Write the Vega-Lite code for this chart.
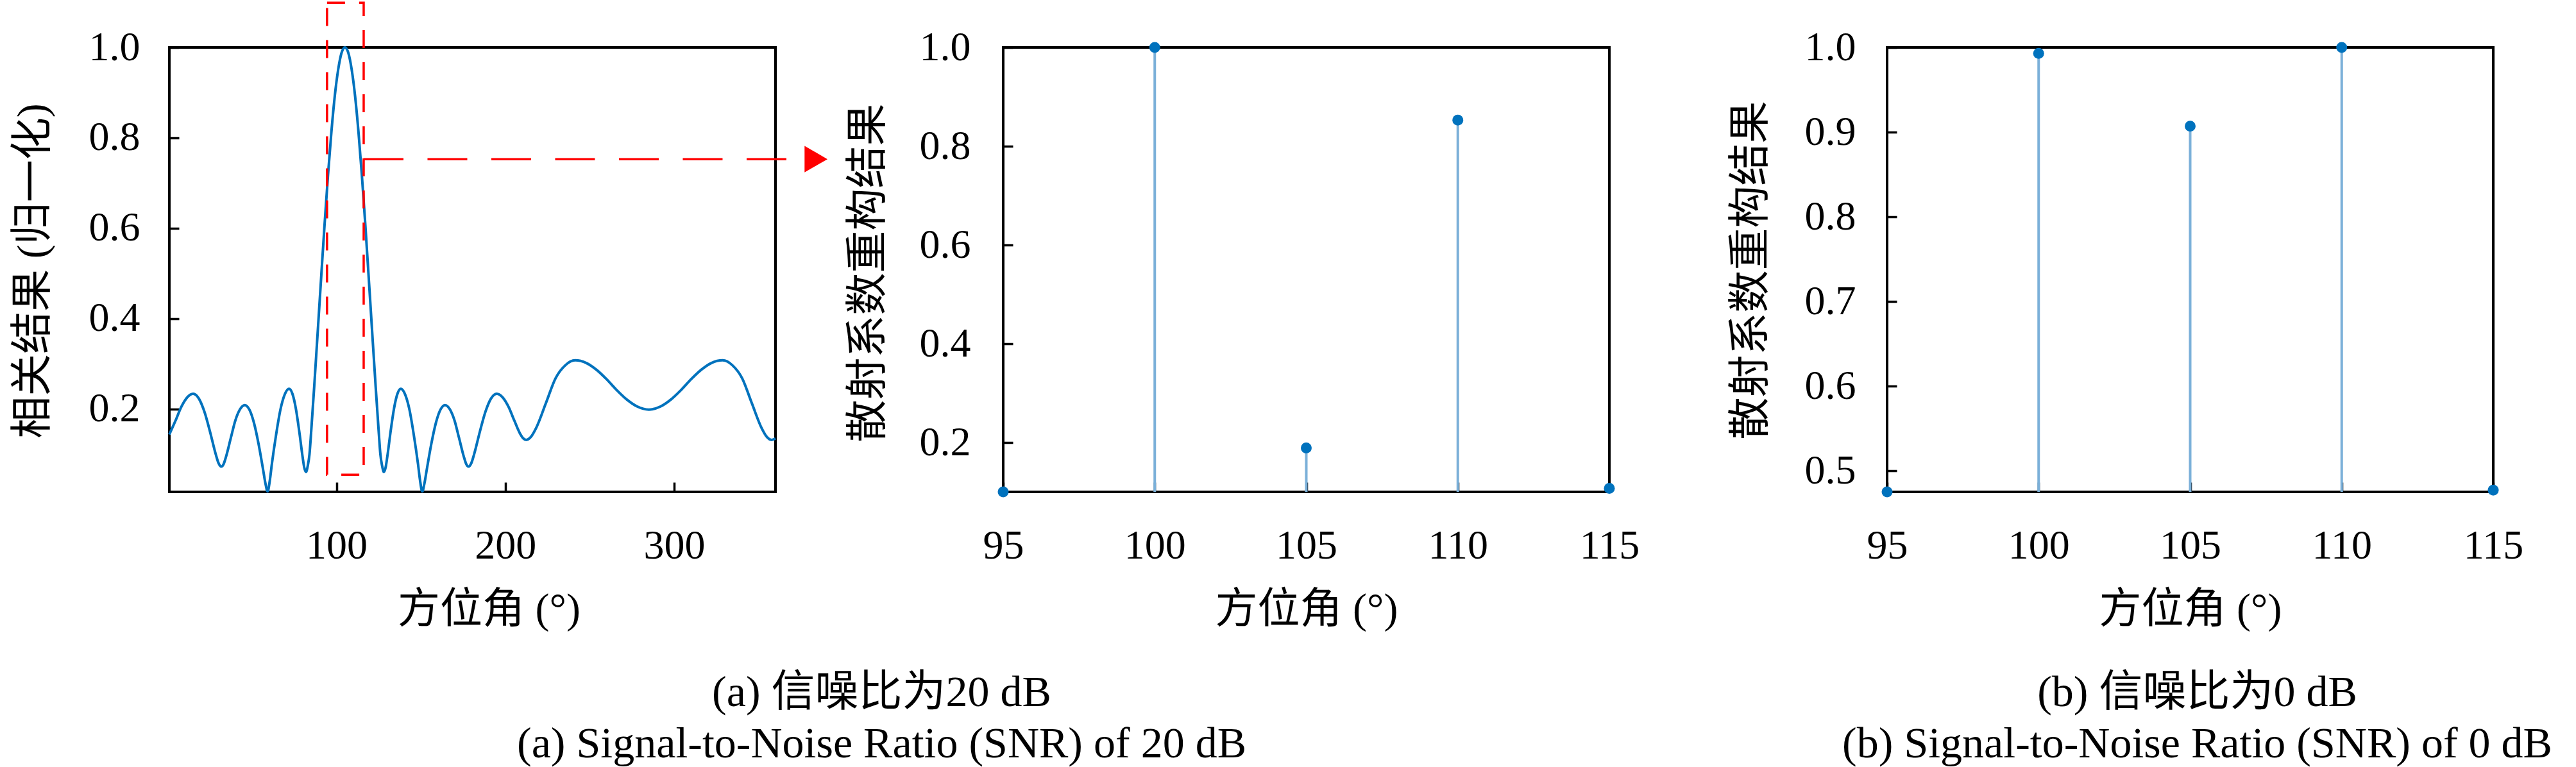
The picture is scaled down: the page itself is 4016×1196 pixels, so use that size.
{
  "$schema": "https://vega.github.io/schema/vega-lite/v6.json",
  "padding": {"left": 15, "top": 0, "right": 0, "bottom": 0},
  "background": "white",
  "spacing": 135,
  "hconcat": [
    {
      "bounds": "flush",
      "spacing": 355,
      "hconcat": [
        {
          "width": 945,
          "height": 693,
          "layer": [
            {
              "data": {
                "values": [
                  {"a": 1, "v": 0.144}, {"a": 4.6, "v": 0.174}, {"a": 8.1, "v": 0.205},
                  {"a": 11.6, "v": 0.226}, {"a": 15.1, "v": 0.234}, {"a": 18.4, "v": 0.224},
                  {"a": 21.8, "v": 0.194}, {"a": 25.1, "v": 0.150}, {"a": 28.5, "v": 0.100},
                  {"a": 30.1, "v": 0.081}, {"a": 31.8, "v": 0.073}, {"a": 33.2, "v": 0.079},
                  {"a": 34.6, "v": 0.095}, {"a": 37.4, "v": 0.136}, {"a": 40.1, "v": 0.175},
                  {"a": 42.9, "v": 0.200}, {"a": 45.7, "v": 0.209}, {"a": 48.4, "v": 0.199},
                  {"a": 51.1, "v": 0.170}, {"a": 53.8, "v": 0.124}, {"a": 56.5, "v": 0.067},
                  {"a": 57.85, "v": 0.037}, {"a": 59.2, "v": 0.018}, {"a": 60.5, "v": 0.042},
                  {"a": 61.7, "v": 0.078}, {"a": 64.3, "v": 0.145}, {"a": 66.8, "v": 0.199},
                  {"a": 69.4, "v": 0.233}, {"a": 71.9, "v": 0.245}, {"a": 73.9, "v": 0.234},
                  {"a": 75.9, "v": 0.202}, {"a": 77.9, "v": 0.152}, {"a": 79.9, "v": 0.095},
                  {"a": 80.9, "v": 0.071}, {"a": 81.9, "v": 0.061}, {"a": 83, "v": 0.075},
                  {"a": 84, "v": 0.100}, {"a": 85, "v": 0.150}, {"a": 87, "v": 0.261},
                  {"a": 89, "v": 0.378}, {"a": 91, "v": 0.496}, {"a": 93, "v": 0.612},
                  {"a": 95, "v": 0.719}, {"a": 97, "v": 0.814}, {"a": 99, "v": 0.893},
                  {"a": 101, "v": 0.951}, {"a": 103, "v": 0.988}, {"a": 105, "v": 1.000},
                  {"a": 107, "v": 0.988}, {"a": 109, "v": 0.951}, {"a": 111, "v": 0.893},
                  {"a": 113, "v": 0.814}, {"a": 115, "v": 0.719}, {"a": 117, "v": 0.612},
                  {"a": 119, "v": 0.496}, {"a": 121, "v": 0.378}, {"a": 123, "v": 0.261},
                  {"a": 125, "v": 0.150}, {"a": 126, "v": 0.100}, {"a": 127, "v": 0.075},
                  {"a": 128.1, "v": 0.061}, {"a": 129.1, "v": 0.071}, {"a": 130.1, "v": 0.095},
                  {"a": 132.1, "v": 0.152}, {"a": 134.1, "v": 0.202}, {"a": 136.1, "v": 0.234},
                  {"a": 138.1, "v": 0.245}, {"a": 140.6, "v": 0.233}, {"a": 143.2, "v": 0.199},
                  {"a": 145.7, "v": 0.145}, {"a": 148.3, "v": 0.078}, {"a": 149.5, "v": 0.042},
                  {"a": 150.8, "v": 0.018}, {"a": 152.15, "v": 0.037}, {"a": 153.5, "v": 0.067},
                  {"a": 156.2, "v": 0.124}, {"a": 158.9, "v": 0.170}, {"a": 161.6, "v": 0.199},
                  {"a": 164.3, "v": 0.209}, {"a": 167.1, "v": 0.200}, {"a": 169.9, "v": 0.175},
                  {"a": 172.6, "v": 0.136}, {"a": 175.4, "v": 0.095}, {"a": 176.8, "v": 0.079},
                  {"a": 178.2, "v": 0.073}, {"a": 179.9, "v": 0.081}, {"a": 181.5, "v": 0.100},
                  {"a": 184.9, "v": 0.150}, {"a": 188.2, "v": 0.194}, {"a": 191.6, "v": 0.224},
                  {"a": 194.9, "v": 0.234}, {"a": 198.4, "v": 0.226}, {"a": 201.9, "v": 0.205},
                  {"a": 205.4, "v": 0.174}, {"a": 209, "v": 0.144}, {"a": 210.7, "v": 0.135},
                  {"a": 212.4, "v": 0.132}, {"a": 215, "v": 0.138}, {"a": 218.2, "v": 0.158},
                  {"a": 224, "v": 0.213}, {"a": 229.7, "v": 0.268}, {"a": 235.5, "v": 0.297},
                  {"a": 241.3, "v": 0.308}, {"a": 248, "v": 0.302}, {"a": 254, "v": 0.287},
                  {"a": 260, "v": 0.266}, {"a": 266, "v": 0.242}, {"a": 272, "v": 0.221},
                  {"a": 278, "v": 0.206}, {"a": 285, "v": 0.199}, {"a": 292, "v": 0.206},
                  {"a": 298, "v": 0.221}, {"a": 304, "v": 0.242}, {"a": 310, "v": 0.266},
                  {"a": 316, "v": 0.287}, {"a": 322, "v": 0.302}, {"a": 328.7, "v": 0.308},
                  {"a": 334.5, "v": 0.297}, {"a": 340.3, "v": 0.268}, {"a": 346, "v": 0.213},
                  {"a": 351.8, "v": 0.158}, {"a": 355, "v": 0.138}, {"a": 357.6, "v": 0.132},
                  {"a": 360, "v": 0.135}
                ]
              },
              "mark": {"type": "line", "color": "#0072BD", "strokeWidth": 4, "interpolate": "monotone"},
              "encoding": {
                "x": {
                  "field": "a",
                  "type": "quantitative",
                  "scale": {"domain": [1, 360], "nice": false, "zero": false},
                  "axis": {
                    "title": "方位角 (°)",
                    "values": [100, 200, 300],
                    "titleX": 498,
                    "titleY": 183,
                    "titleBaseline": "middle"
                  }
                },
                "y": {
                  "field": "v",
                  "type": "quantitative",
                  "scale": {"domain": [0.017, 1], "nice": false, "zero": false},
                  "axis": {
                    "title": "相关结果 (归一化)",
                    "values": [0.2, 0.4, 0.6, 0.8, 1.0],
                    "format": ".1f",
                    "labelPadding": 61,
                    "titleX": -213,
                    "titleY": 348,
                    "titleBaseline": "middle"
                  }
                }
              }
            },
            {
              "data": {"values": [{"a": 94.4, "a2": 116.1, "v": 0.055, "v2": 1.099}]},
              "mark": {"type": "rect", "fillOpacity": 0, "stroke": "#FF0000", "strokeWidth": 3.5, "strokeDash": [28, 22]},
              "encoding": {
                "x": {"field": "a", "type": "quantitative"},
                "x2": {"field": "a2"},
                "y": {"field": "v", "type": "quantitative"},
                "y2": {"field": "v2"}
              }
            },
            {
              "data": {"values": [{"a": 116.1, "a2": 377.7, "v": 0.753}]},
              "mark": {"type": "rule", "color": "#FF0000", "strokeWidth": 3.5, "strokeDash": [62, 37.5]},
              "encoding": {
                "x": {"field": "a", "type": "quantitative"},
                "x2": {"field": "a2"},
                "y": {"field": "v", "type": "quantitative"}
              }
            },
            {
              "data": {"values": [{"a": 384, "v": 0.753}]},
              "mark": {"type": "point", "shape": "triangle-right", "filled": true, "color": "#FF0000", "opacity": 1, "size": 1700},
              "encoding": {
                "x": {"field": "a", "type": "quantitative"},
                "y": {"field": "v", "type": "quantitative"}
              }
            }
          ]
        },
        {
          "width": 945,
          "height": 693,
          "title": {
            "text": ["(a) 信噪比为20 dB", "(a) Signal-to-Noise Ratio (SNR) of 20 dB"],
            "orient": "bottom",
            "anchor": "middle",
            "frame": "group",
            "baseline": "top",
            "offset": 64,
            "dx": -662
          },
          "data": {
            "values": [
              {"a": 95, "v": 0.100},
              {"a": 100, "v": 1.000},
              {"a": 105, "v": 0.189},
              {"a": 110, "v": 0.853},
              {"a": 115, "v": 0.107}
            ]
          },
          "encoding": {
            "x": {
              "field": "a",
              "type": "quantitative",
              "scale": {"domain": [95, 115], "nice": false, "zero": false},
              "axis": {
                "title": "方位角 (°)",
                "values": [95, 100, 105, 110, 115],
                "titleX": 472.5,
                "titleY": 183,
                "titleBaseline": "middle"
              }
            },
            "y": {
              "field": "v",
              "type": "quantitative",
              "scale": {"domain": [0.1, 1], "nice": false, "zero": false},
              "axis": {
                "title": "散射系数重构结果",
                "values": [0.2, 0.4, 0.6, 0.8, 1.0],
                "format": ".1f",
                "labelPadding": 66,
                "titleX": -211,
                "titleY": 351,
                "titleBaseline": "middle"
              }
            }
          },
          "layer": [
            {
              "mark": {"type": "rule", "color": "#7BB0D9", "strokeWidth": 4, "clip": true},
              "encoding": {"y2": {"datum": 0}}
            },
            {
              "mark": {"type": "point", "shape": "circle", "filled": true, "color": "#0072BD", "opacity": 1, "size": 289}
            }
          ]
        }
      ]
    },
    {
      "width": 945,
      "height": 693,
      "title": {
        "text": ["(b) 信噪比为0 dB", "(b) Signal-to-Noise Ratio (SNR) of 0 dB"],
        "orient": "bottom",
        "anchor": "middle",
        "frame": "group",
        "baseline": "top",
        "offset": 64,
        "dx": 11
      },
      "data": {
        "values": [
          {"a": 95, "v": 0.475},
          {"a": 100, "v": 0.993},
          {"a": 105, "v": 0.907},
          {"a": 110, "v": 1.000},
          {"a": 115, "v": 0.477}
        ]
      },
      "encoding": {
        "x": {
          "field": "a",
          "type": "quantitative",
          "scale": {"domain": [95, 115], "nice": false, "zero": false},
          "axis": {
            "title": "方位角 (°)",
            "values": [95, 100, 105, 110, 115],
            "titleX": 472.5,
            "titleY": 183,
            "titleBaseline": "middle"
          }
        },
        "y": {
          "field": "v",
          "type": "quantitative",
          "scale": {"domain": [0.475, 1], "nice": false, "zero": false},
          "axis": {
            "title": "散射系数重构结果",
            "values": [0.5, 0.6, 0.7, 0.8, 0.9, 1.0],
            "format": ".1f",
            "labelPadding": 64,
            "titleX": -213,
            "titleY": 347,
            "titleBaseline": "middle"
          }
        }
      },
      "layer": [
        {
          "mark": {"type": "rule", "color": "#7BB0D9", "strokeWidth": 4, "clip": true},
          "encoding": {"y2": {"datum": 0}}
        },
        {
          "mark": {"type": "point", "shape": "circle", "filled": true, "color": "#0072BD", "opacity": 1, "size": 289}
        }
      ]
    }
  ],
  "config": {
    "view": {"stroke": "black", "strokeWidth": 4},
    "axis": {
      "grid": false,
      "domain": false,
      "ticks": true,
      "tickColor": "black",
      "tickWidth": 3.5,
      "tickSize": -15,
      "labelFont": "Liberation Serif",
      "labelFontSize": 64,
      "labelColor": "black",
      "labelFlush": false,
      "labelOverlap": false,
      "titleFont": "Liberation Serif, Noto Sans CJK SC",
      "titleFontSize": 66,
      "titleFontWeight": "normal",
      "titleColor": "black"
    },
    "axisX": {"labelPadding": 67},
    "title": {
      "font": "Liberation Serif, Noto Sans CJK SC",
      "fontSize": 68,
      "fontWeight": "normal",
      "color": "black",
      "lineHeight": 80
    }
  }
}
